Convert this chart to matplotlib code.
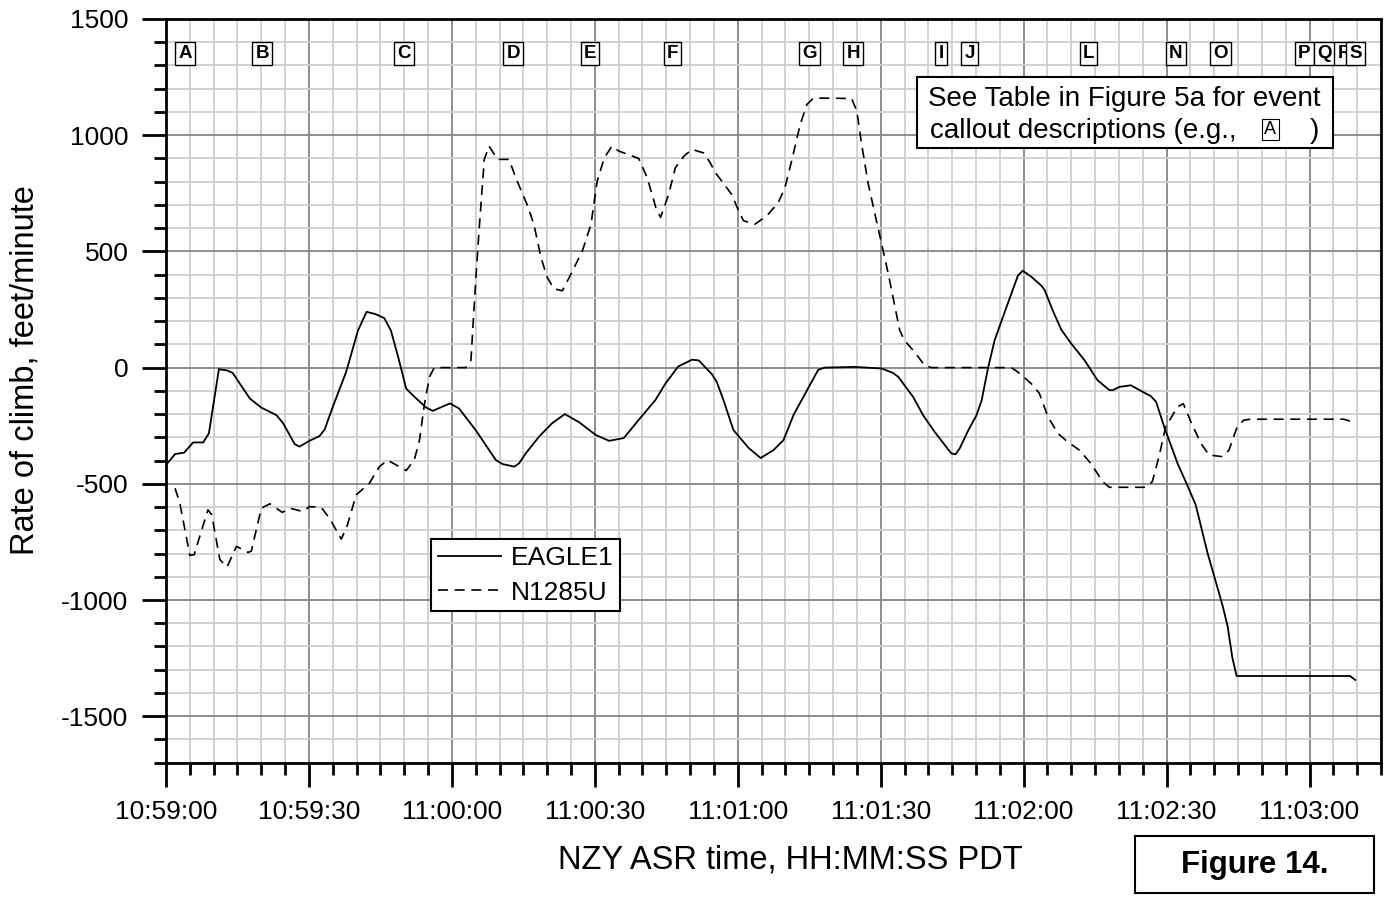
import matplotlib
matplotlib.use('Agg')
import matplotlib.pyplot as plt
from matplotlib.ticker import MultipleLocator
from matplotlib.patches import Rectangle

plt.rcParams['font.family'] = ['Liberation Sans', 'DejaVu Sans']
plt.rcParams['axes.unicode_minus'] = False

# seconds after 10:59:00, rate of climb in ft/min
eagle_t = [0, 1.9, 3.8, 5.7, 7.8, 9, 11.1, 12.8, 14, 15.5, 17.6, 20, 23.2, 24.6, 27, 28,
           30.1, 32.2, 33.3, 35, 37.8, 40.3, 42.1, 44, 45.8, 47.2, 48.8, 50.4, 51.8, 54.6,
           56, 59.6, 61.5, 65, 69.2, 70.6, 73.1, 74.1, 75.5, 78.3, 81, 83.7, 86.7, 90.2,
           93, 96.1, 99.2, 102.7, 104.8, 107.5, 110.4, 111.8, 114.6, 115.6, 117, 119.1,
           122.3, 124.8, 127.5, 129.6, 131.7, 133.4, 136.9, 138.3, 144.6, 150.2, 152.6,
           153.7, 156.8, 158.9, 161.3, 164.8, 165.7, 166.6, 168.4, 170.1, 171.2, 172.5,
           173.9, 176, 178.8, 179.8, 181.6, 183.7, 184.4, 186.1, 187.9, 190, 192.8, 195.5,
           198, 198.7, 200.1, 202.5, 204.6, 206.7, 207.8, 209.5, 212.3, 214, 216.1, 218.6,
           220, 221.7, 222.8, 223.8, 224.7, 248.5, 249.6]
eagle_v = [-419, -372, -366, -322, -322, -283, -7, -12, -23, -69, -133, -172, -205, -240,
           -329, -340, -315, -295, -266, -169, -19, 160, 240, 230, 213, 160, 40, -90, -119,
           -172, -186, -154, -176, -269, -397, -415, -426, -412, -369, -297, -240, -200,
           -235, -290, -315, -303, -225, -140, -69, 5, 34, 31, -29, -62, -140, -269, -346,
           -389, -355, -312, -204, -140, -9, 0, 3, -4, -23, -40, -126, -205, -276, -369,
           -373, -347, -269, -205, -140, -4, 117, 238, 396, 417, 391, 353, 334, 246, 163,
           103, 31, -54, -97, -97, -83, -76, -100, -123, -147, -255, -412, -490, -590, -798,
           -898, -1020, -1112, -1248, -1327, -1327, -1344]

n1285u_t = [1.9, 2.9, 5, 5.9, 8.8, 9.6, 11.3, 12.8, 14.8, 17.2, 17.9, 20, 21.8, 24.4, 26,
            28.7, 30.1, 32.6, 34.3, 36.8, 38.1, 39.9, 42.7, 44.8, 46.5, 50.4, 52.1, 53.2,
            54.2, 55.3, 56.3, 62.9, 64, 65, 65.7, 66.8, 67.8, 69.6, 72, 73.4, 75.9, 77.2,
            78.7, 80, 81.4, 83.2, 85, 87.4, 89.2, 90.5, 92, 93.6, 95, 99.2, 101, 102.8,
            103.8, 105.5, 106.9, 108.7, 110.4, 112.8, 114.2, 115.3, 118.7, 120.2, 121.2,
            123.6, 126.1, 128.5, 129.9, 131.3, 133.1, 134.5, 135.9, 143.9, 145, 146, 147.4,
            148.8, 150.2, 151.6, 153, 154, 155, 157.1, 159.2, 160.6, 177.4, 178.8, 181.6,
            183.3, 185.1, 187.2, 189.2, 191.7, 194.1, 196.6, 198, 205.6, 207, 208.4, 209.8,
            212.3, 213.5, 215.1, 217.2, 218.9, 221.7, 223.1, 224.8, 226.2, 227.6, 247.2,
            248.9]
n1285u_v = [-519, -583, -808, -805, -612, -633, -826, -858, -769, -795, -790, -605, -586,
            -623, -605, -619, -598, -602, -648, -738, -676, -548, -497, -426, -398, -443,
            -398, -312, -162, -40, 0, 0, 31, 374, 589, 896, 953, 896, 896, 817, 696, 617,
            474, 389, 339, 331, 403, 503, 617, 803, 903, 953, 932, 900, 817, 689, 646, 746,
            860, 910, 939, 924, 882, 839, 746, 674, 632, 617, 653, 710, 774, 889, 1046, 1132,
            1160, 1158, 1103, 960, 789, 660, 532, 403, 260, 160, 117, 67, 10, 0, 0, -19, -69,
            -111, -212, -283, -319, -355, -412, -491, -515, -515, -491, -383, -255, -169,
            -155, -233, -326, -376, -383, -355, -255, -226, -222, -222, -233]

tick_secs = [0, 30, 60, 90, 120, 150, 180, 210, 240]
tick_labels = ['10:59:00', '10:59:30', '11:00:00', '11:00:30', '11:01:00',
               '11:01:30', '11:02:00', '11:02:30', '11:03:00']

event_letters = ['A', 'B', 'C', 'D', 'E', 'F', 'G', 'H', 'I', 'J', 'L', 'N', 'O',
                 'P', 'Q', 'R', 'S']
event_secs = [4, 20.2, 50, 72.9, 89, 106.3, 135.1, 144.2, 162.7, 168.7, 193.6, 211.9,
              221.4, 238.9, 243.1, 247.3, 249.6]

fig = plt.figure(figsize=(13.88, 8.99), dpi=100)
ax = fig.add_axes([166 / 1388, 1 - 762.7 / 899, (1381 - 166) / 1388, (762.7 - 19) / 899])

ax.plot(eagle_t, eagle_v, color='black', lw=1.3, label='EAGLE1')
ax.plot(n1285u_t, n1285u_v, color='black', lw=1.2, dashes=(6, 4), label='N1285U')

ax.set_xlim(0, 255)
ax.set_ylim(-1700, 1500)
ax.set_xticks(tick_secs, tick_labels)
ax.xaxis.set_minor_locator(MultipleLocator(5))
ax.yaxis.set_major_locator(MultipleLocator(500))
ax.yaxis.set_minor_locator(MultipleLocator(100))

ax.set_axisbelow(True)
ax.grid(which='minor', color='#cfcfcf', lw=1.3)
ax.grid(which='major', color='#858585', lw=1.3)

ax.tick_params(which='major', direction='out', length=17, width=2, labelsize=19, pad=10)
ax.tick_params(which='minor', direction='out', length=8.5, width=2)
ax.tick_params(top=False, right=False, which='both')
for sp in ax.spines.values():
    sp.set_linewidth(2)

leg = ax.legend(loc='center', bbox_to_anchor=(0.296, 0.252), fontsize=19, frameon=True,
                fancybox=False, edgecolor='black', framealpha=1, handlelength=2.4,
                borderpad=0.25, labelspacing=0.4, handletextpad=0.35, borderaxespad=0)
leg.get_frame().set_linewidth(1.5)

# event callout letters along the top
for s, letter in zip(event_secs, event_letters):
    ax.text(s, 0.954, letter, transform=ax.get_xaxis_transform(), ha='center',
            va='center', fontsize=13.5, weight='bold',
            bbox=dict(boxstyle='square,pad=0.17', fc='white', ec='black', lw=1))

# note box
ax.add_patch(Rectangle((0.618, 0.8265), 0.3425, 0.0955, transform=ax.transAxes,
                       fc='white', ec='black', lw=1.5, zorder=5))
ax.text(0.789, 0.893, 'See Table in Figure 5a for event', transform=ax.transAxes,
        ha='center', va='center', fontsize=20, zorder=6)
ax.text(0.629, 0.850, 'callout descriptions (e.g.,', transform=ax.transAxes,
        ha='left', va='center', fontsize=20, zorder=6)
ax.text(0.909, 0.851, 'A', transform=ax.transAxes, ha='center', va='center',
        fontsize=13, zorder=6,
        bbox=dict(boxstyle='square,pad=0.12', fc='white', ec='black', lw=0.8))
ax.text(0.945, 0.850, ')', transform=ax.transAxes, ha='center', va='center',
        fontsize=20, zorder=6)

fig.text(25 / 1388, 1 - 370 / 899, 'Rate of climb, feet/minute', rotation=90,
         ha='center', va='center', fontsize=23.5)
fig.text(790 / 1388, 1 - 860 / 899, 'NZY ASR time, HH:MM:SS PDT',
         ha='center', va='center', fontsize=23.5)

fig.patches.append(Rectangle((1135 / 1388, 6 / 899), 239 / 1388, 57 / 899,
                             transform=fig.transFigure, fc='white', ec='black', lw=1.5))
fig.text(1254.5 / 1388, 1 - 864.5 / 899, 'Figure 14.', ha='center', va='center',
         fontsize=22.5, weight='bold')

fig.savefig('out.png', dpi=100)
